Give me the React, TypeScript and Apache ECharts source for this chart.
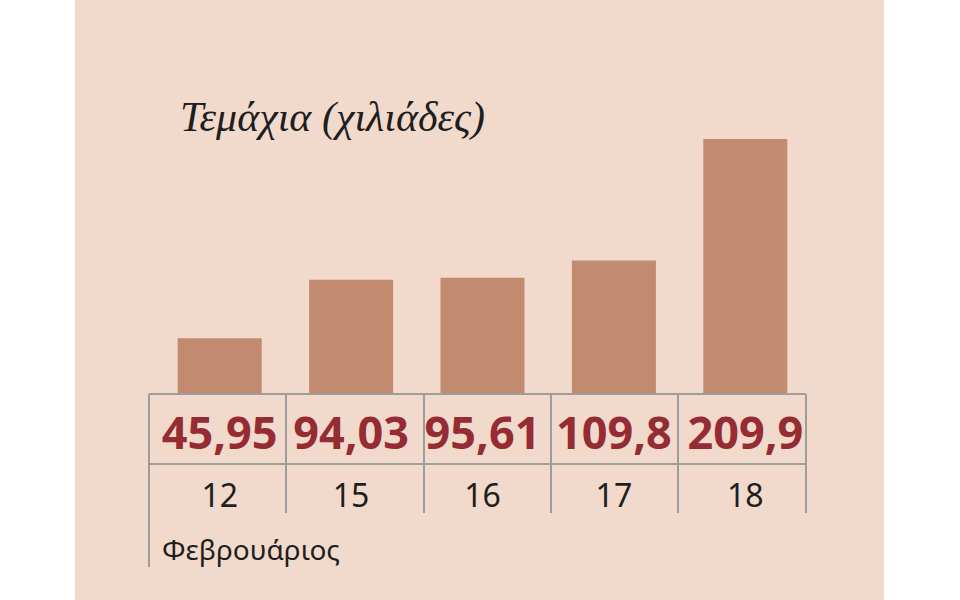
import React from 'react';
import * as echarts from 'echarts';

const days = ['12', '15', '16', '17', '18'];
const values = [45.95, 94.03, 95.61, 109.8, 209.9];
const titleText = 'Τεμάχια (χιλιάδες)';
const monthText = 'Φεβρουάριος';

// table layout (pixels)
const colEdges = [149, 286, 424, 551, 678, 806];
const tableTop = 394;
const tableMid = 464;
const tableBottom = 513;

const fmt = (v: number) => String(v).replace('.', ',');

const App = () => {
  const chartRef = React.useRef(null);

  React.useEffect(() => {
    document.body.style.margin = '0';
    const myChart = echarts.init(chartRef.current, null, { renderer: 'svg' });

    const lineStyle = { stroke: '#9d9d9d', lineWidth: 2 };
    const tableLines: any[] = [
      { type: 'line', shape: { x1: colEdges[0], y1: tableTop, x2: colEdges[5], y2: tableTop }, style: lineStyle, z: 100 },
      { type: 'line', shape: { x1: colEdges[0], y1: tableMid, x2: colEdges[5], y2: tableMid }, style: lineStyle, z: 100 },
    ];
    colEdges.forEach((x, i) => {
      tableLines.push({
        type: 'line',
        shape: { x1: x, y1: tableTop, x2: x, y2: i === 0 ? 567 : tableBottom },
        style: lineStyle,
        z: 100,
      });
    });

    myChart.setOption({
      animation: false,
      grid: { left: 154, right: 149, top: 100, bottom: 206 },
      xAxis: {
        type: 'category',
        data: days,
        axisLine: { show: false },
        axisTick: { show: false },
        axisLabel: {
          interval: 0,
          margin: 0,
          formatter: (val: string, idx: number) => `{v|${fmt(values[idx])}}\n{d|${val}}`,
          rich: {
            v: {
              fontFamily: 'Noto Sans',
              fontWeight: 'bold',
              fontSize: 45,
              color: '#952b33',
              lineHeight: 74,
            },
            d: {
              fontFamily: 'Noto Sans',
              fontSize: 32,
              color: '#1e1e1e',
              lineHeight: 52,
            },
          },
        },
      },
      yAxis: { type: 'value', min: 0, max: 242, show: false },
      series: [
        {
          type: 'bar',
          data: values,
          barWidth: 84,
          itemStyle: { color: '#c28b70' },
        },
      ],
      graphic: [
        {
          type: 'rect',
          shape: { x: 75, y: 0, width: 809, height: 600 },
          style: { fill: '#f1dacb' },
          z: -10,
        },
        {
          type: 'text',
          x: 180,
          y: 117,
          style: {
            text: titleText,
            fontFamily: 'Liberation Serif',
            fontStyle: 'italic',
            fontSize: 42,
            fill: '#1e1e1e',
            verticalAlign: 'middle',
          },
        },
        {
          type: 'text',
          x: 162,
          y: 549,
          style: {
            text: monthText,
            fontFamily: 'Noto Sans',
            fontSize: 28,
            fill: '#1e1e1e',
            verticalAlign: 'middle',
          },
        },
        ...tableLines,
      ],
    });

    return () => {
      myChart.dispose();
    };
  }, []);

  return <div ref={chartRef} style={{ width: '960px', height: '600px' }} />;
};

export default App;
